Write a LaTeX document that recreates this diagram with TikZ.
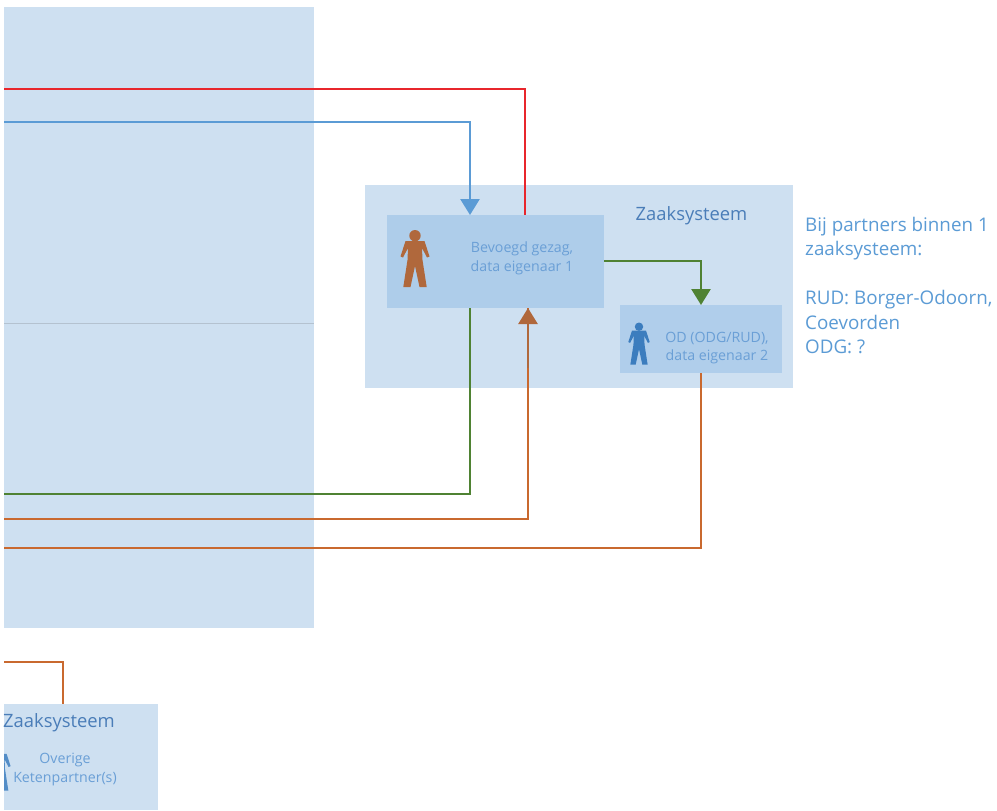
\documentclass[tikz,border=0pt]{standalone}
\usepackage{fontspec}
\setmainfont{Open Sans}
\usetikzlibrary{arrows.meta,calc}
\definecolor{outerbox}{HTML}{CEE0F1}
\definecolor{innerbox}{HTML}{AECDEA}
\definecolor{odbox}{HTML}{B0CEEB}
\definecolor{titletext}{HTML}{4A7DB8}
\definecolor{softtext}{HTML}{6A9FD6}
\definecolor{sidetext}{HTML}{5B9BD5}
\definecolor{cred}{HTML}{E8262C}
\definecolor{cblue}{HTML}{5B9BD5}
\definecolor{cgreen}{HTML}{4F8233}
\definecolor{corange}{HTML}{C9692F}
\definecolor{cbrown}{HTML}{B0683C}
\definecolor{pblue}{HTML}{3C7DBE}
\tikzset{
  panel/.style={anchor=north west,inner sep=0pt,outer sep=0pt,fill=outerbox},
  actorbox/.style={anchor=north west,inner sep=0pt,outer sep=0pt,fill=innerbox},
  boxtitle/.style={font=\fontsize{18.4}{22}\selectfont,text=titletext,inner sep=0pt},
  actortext/.style={font=\fontsize{14.2}{18.6}\selectfont,text=softtext,align=center,inner sep=0pt},
  sidenote/.style={font=\fontsize{18.8}{24.4}\selectfont,text=sidetext,align=left,anchor=north west,inner sep=0pt},
  flow/.style={line width=2.6pt,line join=miter},
  flowhead/.style={flow,-{Triangle[width=19pt,length=16pt]}},
  person/.pic={
    \fill (0,5.7) circle (5.7);
    \fill (-9.5,11) -- (9.5,11) -- (14.5,26.5) -- (12,27.5) -- (7,18) -- (7.5,30) -- (11.7,57) -- (4.5,57) -- (0,36) -- (-4.5,57) -- (-11.7,57) -- (-7.5,30) -- (-7,18) -- (-12,27.5) -- (-14.5,26.5) -- cycle;
  }
}
\begin{document}
\begin{tikzpicture}[x=1pt,y=-1pt]
\useasboundingbox (0,0) rectangle (997,811);
\fill[white] (0,0) rectangle (997,811);
% panels
\node[panel,minimum width=310pt,minimum height=621pt] (big) at (4,7) {};
\node[panel,minimum width=428pt,minimum height=203pt] (zs) at (365,185) {};
\node[actorbox,minimum width=217pt,minimum height=93pt] (bev) at (387,215) {};
\node[actorbox,fill=odbox,minimum width=162pt,minimum height=68pt] (od) at (620,305) {};
\node[panel,minimum width=154pt,minimum height=106pt] (low) at (4,704) {};
% divider
\coordinate (divl) at (4,323);
\coordinate (divr) at (314,323);
\draw[line width=0.7pt,color=black!8!outerbox!85!gray] (divl) -- (divr);
% free ends
\coordinate (redstart) at (4,89);
\coordinate (bluestart) at (4,122);
\coordinate (greenstart) at (4,494);
\coordinate (orangeone) at (4,519);
\coordinate (orangetwo) at (4,548);
\coordinate (orangethree) at (4,662);
% connectors
\draw[flow,cred] (redstart) -| ([xshift=138pt]bev.north west);
\draw[flowhead,cblue] (bluestart) -| ([xshift=83pt]bev.north west);
\draw[flow,cgreen] (greenstart) -| ([xshift=83pt]bev.south west);
\draw[flow,corange] (orangeone) -| ([xshift=141pt]bev.south west);
\draw[flowhead,cbrown] ([xshift=141pt,yshift=-60pt]bev.south west) -- ([xshift=141pt]bev.south west);
\draw[flow,corange] (orangetwo) -| ([xshift=81pt]od.south west);
\draw[flowhead,cgreen] ([yshift=-46pt]bev.north east) -| ([xshift=81pt]od.north west);
\draw[flow,corange] (orangethree) -| ([xshift=59pt]low.north west);
% people
\pic[cbrown] (bevperson) at (415,230) {person};
\pic[pblue,scale=0.74] (odperson) at (639,322.5) {person};
\begin{scope}
\clip (4,704) rectangle (158,810);
\pic[pblue!80!innerbox,scale=0.8] (lowperson) at (-1,745) {person};
\end{scope}
% labels
\node[boxtitle] (zstitle) at (691.5,215.5) {Zaaksysteem};
\node[actortext] (bevtext) at (522,258.5) {Bevoegd gezag,\\data eigenaar 1};
\node[actortext] (odtext) at (717,348) {OD (ODG/RUD),\\data eigenaar 2};
\node[boxtitle] (lowtitle) at (59,723) {Zaaksysteem};
\node[actortext] (lowtext) at (65,769.5) {Overige\\Ketenpartner(s)};
\node[sidenote] (note) at (805,217) {Bij partners binnen 1\\zaaksysteem:\\[0pt]\mbox{}\\RUD: Borger-Odoorn,\\Coevorden\\ODG: ?};
\end{tikzpicture}
\end{document}
